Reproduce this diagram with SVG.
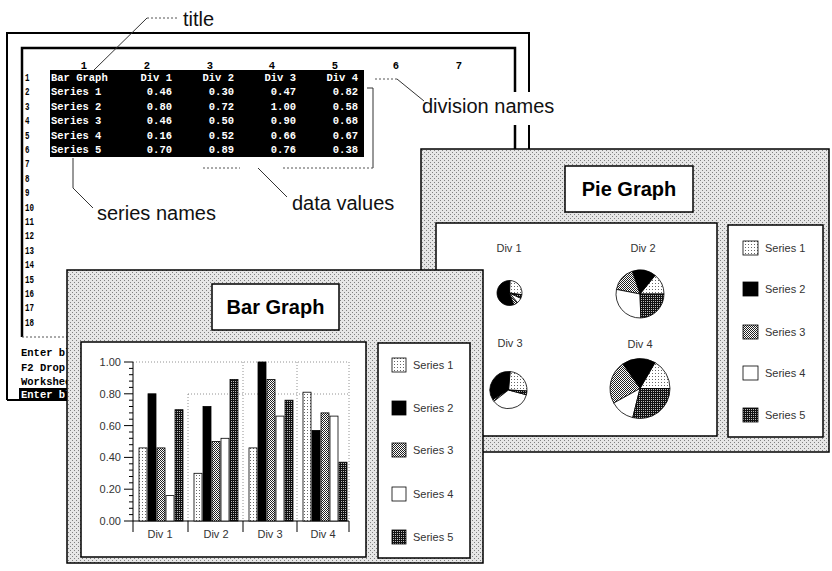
<svg xmlns="http://www.w3.org/2000/svg" width="832" height="571" viewBox="0 0 832 571">
<style>
.mono{font-family:"Liberation Mono","DejaVu Sans Mono",monospace;font-weight:bold;font-size:10.5px}
.lbl{font-family:"Liberation Sans",Arial,sans-serif;font-size:20px;fill:#111}
.sm{font-family:"Liberation Sans",Arial,sans-serif;font-size:11px;fill:#333}
.ttl{font-family:"Liberation Sans",Arial,sans-serif;font-size:20px;font-weight:bold;fill:#000}
.frame{fill:none;stroke:#000}
.panel{fill:url(#halftone);stroke:#000;stroke-width:1.5}
.box{fill:#fff;stroke:#000;stroke-width:1.5}
.lead{fill:none;stroke:#333;stroke-width:1}
.dot{fill:none;stroke:#555;stroke-width:1;stroke-dasharray:2 2}
.grid{fill:none;stroke:#777;stroke-width:0.8;stroke-dasharray:1 2}
.s1{fill:url(#p1);stroke:#000;stroke-width:0.8}
.s2{fill:#000;stroke:#000;stroke-width:0.8}
.s3{fill:url(#p3);stroke:#000;stroke-width:0.8}
.s4{fill:#fff;stroke:#000;stroke-width:0.8}
.s5{fill:url(#p5);stroke:#000;stroke-width:0.8}
</style>
<defs>
<pattern id="halftone" patternUnits="userSpaceOnUse" width="4" height="4">
<rect width="4" height="4" fill="#e6e6e6"/><rect x="0" y="0" width="1" height="1" fill="#808080"/><rect x="2" y="2" width="1" height="1" fill="#808080"/>
</pattern>
<pattern id="p1" patternUnits="userSpaceOnUse" width="3" height="3">
<rect width="3" height="3" fill="#fff"/><rect x="1" y="1" width="1" height="1" fill="#666"/>
</pattern>
<pattern id="p3" patternUnits="userSpaceOnUse" width="2" height="2">
<rect width="2" height="2" fill="#fff"/><rect x="0" y="0" width="1" height="1" fill="#222"/><rect x="1" y="1" width="1" height="1" fill="#222"/>
</pattern>
<pattern id="p5" patternUnits="userSpaceOnUse" width="2" height="2">
<rect width="2" height="2" fill="#111"/><rect x="1" y="1" width="1" height="1" fill="#bbb"/>
</pattern>
</defs>
<rect width="832" height="571" fill="#fff"/>

<g id="spreadsheet">
<path class="frame" stroke-width="2" d="M7,400 V33 H529 V92 M529,125 V149"/>
<path class="frame" stroke-width="2.5" d="M22,337 V48 H515 V92 M515,125 V149"/>
<path class="frame" stroke-width="2" d="M7,400 H70"/>
<path class="dot" d="M22,337 H70"/>
<g class="mono" text-anchor="middle" fill="#000">
<text x="84" y="69">1</text><text x="147" y="69">2</text><text x="210" y="69">3</text><text x="272" y="69">4</text><text x="335" y="69">5</text><text x="396" y="69">6</text><text x="459" y="69">7</text>
</g>
<g class="mono" fill="#000" font-size="11">
<text x="25" y="81" textLength="4.5" lengthAdjust="spacingAndGlyphs">1</text>
<text x="25" y="95.4" textLength="4.5" lengthAdjust="spacingAndGlyphs">2</text>
<text x="25" y="109.8" textLength="4.5" lengthAdjust="spacingAndGlyphs">3</text>
<text x="25" y="124.2" textLength="4.5" lengthAdjust="spacingAndGlyphs">4</text>
<text x="25" y="138.6" textLength="4.5" lengthAdjust="spacingAndGlyphs">5</text>
<text x="25" y="153" textLength="4.5" lengthAdjust="spacingAndGlyphs">6</text>
<text x="25" y="167.4" textLength="4.5" lengthAdjust="spacingAndGlyphs">7</text>
<text x="25" y="181.8" textLength="4.5" lengthAdjust="spacingAndGlyphs">8</text>
<text x="25" y="196.2" textLength="4.5" lengthAdjust="spacingAndGlyphs">9</text>
<text x="25" y="210.6" textLength="9" lengthAdjust="spacingAndGlyphs">10</text>
<text x="25" y="225" textLength="9" lengthAdjust="spacingAndGlyphs">11</text>
<text x="25" y="239.4" textLength="9" lengthAdjust="spacingAndGlyphs">12</text>
<text x="25" y="253.8" textLength="9" lengthAdjust="spacingAndGlyphs">13</text>
<text x="25" y="268.2" textLength="9" lengthAdjust="spacingAndGlyphs">14</text>
<text x="25" y="282.6" textLength="9" lengthAdjust="spacingAndGlyphs">15</text>
<text x="25" y="297" textLength="9" lengthAdjust="spacingAndGlyphs">16</text>
<text x="25" y="311.4" textLength="9" lengthAdjust="spacingAndGlyphs">17</text>
<text x="25" y="325.8" textLength="9" lengthAdjust="spacingAndGlyphs">18</text>
</g>
<rect x="50" y="70" width="314" height="87" fill="#000"/>
<g class="mono" fill="#fff" font-size="11">
<text x="51" y="81">Bar Graph</text>
<text x="51" y="95.4">Series 1</text>
<text x="51" y="109.8">Series 2</text>
<text x="51" y="124.2">Series 3</text>
<text x="51" y="138.6">Series 4</text>
<text x="51" y="153">Series 5</text>
</g>
<g class="mono" fill="#fff" text-anchor="end" font-size="11">
<text x="172" y="81">Div 1</text><text x="234" y="81">Div 2</text><text x="296" y="81">Div 3</text><text x="358" y="81">Div 4</text>
<text x="172" y="95.4">0.46</text><text x="234" y="95.4">0.30</text><text x="296" y="95.4">0.47</text><text x="358" y="95.4">0.82</text>
<text x="172" y="109.8">0.80</text><text x="234" y="109.8">0.72</text><text x="296" y="109.8">1.00</text><text x="358" y="109.8">0.58</text>
<text x="172" y="124.2">0.46</text><text x="234" y="124.2">0.50</text><text x="296" y="124.2">0.90</text><text x="358" y="124.2">0.68</text>
<text x="172" y="138.6">0.16</text><text x="234" y="138.6">0.52</text><text x="296" y="138.6">0.66</text><text x="358" y="138.6">0.67</text>
<text x="172" y="153">0.70</text><text x="234" y="153">0.89</text><text x="296" y="153">0.76</text><text x="358" y="153">0.38</text>
</g>
<g class="mono" fill="#000">
<text x="21" y="356">Enter bl</text>
<text x="21" y="371">F2 Drop</text>
<text x="21" y="385">Workshee</text>
</g>
<rect x="19" y="388" width="52" height="12" fill="#000"/>
<text class="mono" x="21" y="398" fill="#fff">Enter bl</text>
</g>

<g id="connectors">
<path class="lead" d="M94,70 L147,18"/>
<path class="dot" d="M147,18 H178"/>
<path class="dot" d="M375,79 H397"/>
<path class="lead" d="M397,79 L424,101"/>
<path class="lead" d="M367,88 H373 V168"/>
<path class="dot" d="M203,168 H240 M283,168 H373"/>
<path class="lead" d="M258,168 L287,197"/>
<path class="lead" d="M73,158 V188 L93,208"/>
</g>

<g id="label-title"><text class="lbl" x="183" y="25.5" font-size="19">title</text></g>
<g id="label-division-names"><text class="lbl" x="422" y="113" font-size="21">division names</text></g>
<g id="label-data-values"><text class="lbl" x="292" y="209.5">data values</text></g>
<g id="label-series-names"><text class="lbl" x="97" y="220" font-size="19">series names</text></g>

<g id="pie-graph">
<rect class="panel" x="421" y="149" width="408" height="303"/>
<rect class="box" x="565" y="166" width="128" height="46"/>
<text class="ttl" x="629" y="196" text-anchor="middle">Pie Graph</text>
<rect class="box" x="436" y="223" width="281" height="213"/>
<g class="sm" text-anchor="middle">
<text x="509" y="252">Div 1</text><text x="643" y="252">Div 2</text><text x="510" y="347">Div 3</text><text x="640" y="348">Div 4</text>
</g>
<g id="pie-div1">
<path class="s1" d="M509.5,293 L521.88,294.74 A12.5,12.5 0 0 0 509.94,280.51 Z"/>
<path class="s2" d="M509.5,293 L509.94,280.51 A12.5,12.5 0 1 0 513.78,304.75 Z"/>
<path class="s3" d="M509.5,293 L513.78,304.75 A12.5,12.5 0 0 0 517.53,302.58 Z"/>
<path class="s4" d="M509.5,293 L517.53,302.58 A12.5,12.5 0 0 0 520.83,298.28 Z"/>
<path class="s5" d="M509.5,293 L520.83,298.28 A12.5,12.5 0 0 0 521.88,294.74 Z"/>
</g>
<g id="pie-div2">
<path class="s1" d="M640,294 L664,294 A24,24 0 0 0 655.10,275.35 Z"/>
<path class="s2" d="M640,294 L655.10,275.35 A24,24 0 0 0 632.19,271.31 Z"/>
<path class="s3" d="M640,294 L632.19,271.31 A24,24 0 0 0 616.44,289.42 Z"/>
<path class="s4" d="M640,294 L616.44,289.42 A24,24 0 0 0 640.84,317.99 Z"/>
<path class="s5" d="M640,294 L640.84,317.99 A24,24 0 0 0 664,294 Z"/>
</g>
<g id="pie-div3">
<path class="s1" d="M508.5,390 L526.97,390.97 A18.5,18.5 0 0 0 510.11,371.57 Z"/>
<path class="s2" d="M508.5,390 L510.11,371.57 A18.5,18.5 0 0 0 492.81,399.80 Z"/>
<path class="s3" d="M508.5,390 L492.81,399.80 A18.5,18.5 0 0 0 493.92,401.39 Z"/>
<path class="s4" d="M508.5,390 L493.92,401.39 A18.5,18.5 0 0 0 526.37,394.79 Z"/>
<path class="s5" d="M508.5,390 L526.37,394.79 A18.5,18.5 0 0 0 526.97,390.97 Z"/>
</g>
<g id="pie-div4">
<path class="s1" d="M640,388.5 L670,388.5 A30,30 0 0 0 655,362.52 Z"/>
<path class="s2" d="M640,388.5 L655,362.52 A30,30 0 0 0 622.79,363.92 Z"/>
<path class="s3" d="M640,388.5 L622.79,363.92 A30,30 0 0 0 613.76,403.04 Z"/>
<path class="s4" d="M640,388.5 L613.76,403.04 A30,30 0 0 0 632.74,417.61 Z"/>
<path class="s5" d="M640,388.5 L632.74,417.61 A30,30 0 0 0 670,388.5 Z"/>
</g>
<g id="pie-legend">
<rect class="box" x="728" y="225" width="95" height="212"/>
<rect class="s1" x="743" y="241" width="15" height="14"/><text class="sm" x="765" y="252">Series 1</text>
<rect class="s2" x="743" y="282" width="15" height="14"/><text class="sm" x="765" y="293">Series 2</text>
<rect class="s3" x="743" y="325" width="15" height="14"/><text class="sm" x="765" y="336">Series 3</text>
<rect class="s4" x="743" y="366" width="15" height="14"/><text class="sm" x="765" y="377">Series 4</text>
<rect class="s5" x="743" y="408" width="15" height="14"/><text class="sm" x="765" y="419">Series 5</text>
</g>
</g>

<g id="bar-graph">
<rect class="panel" x="67" y="270" width="416" height="293"/>
<rect class="box" x="212" y="284" width="127" height="46"/>
<text class="ttl" x="275.5" y="314" text-anchor="middle">Bar Graph</text>
<rect class="box" x="81" y="342" width="285" height="215"/>
<g id="bar-grid">
<path class="grid" d="M133,362 H349 M188,394 H349 M188,394 V521 M243,362 V521 M297,362 V521 M349,362 V521"/>
</g>
<g id="bar-axes" stroke="#000" stroke-width="1" fill="none">
<path d="M133,362 V521 H349"/>
<path d="M124,362 H133 M124,393.8 H133 M124,425.6 H133 M124,457.4 H133 M124,489.2 H133 M124,521 H133"/>
<path d="M129,368.4 H133 M129,374.7 H133 M129,381.1 H133 M129,387.4 H133 M129,400.2 H133 M129,406.5 H133 M129,412.9 H133 M129,419.2 H133 M129,432 H133 M129,438.3 H133 M129,444.7 H133 M129,451 H133 M129,463.8 H133 M129,470.1 H133 M129,476.5 H133 M129,482.8 H133 M129,495.6 H133 M129,501.9 H133 M129,508.3 H133 M129,514.6 H133"/>
<path d="M133,521 V532 M188,521 V532 M243,521 V532 M297,521 V532 M349,521 V532"/>
</g>
<g class="sm" text-anchor="end">
<text x="121" y="366">1.00</text><text x="121" y="397.8">0.80</text><text x="121" y="429.6">0.60</text><text x="121" y="461.4">0.40</text><text x="121" y="493.2">0.20</text><text x="121" y="525">0.00</text>
</g>
<g class="sm" text-anchor="middle">
<text x="160" y="538">Div 1</text><text x="216" y="538">Div 2</text><text x="270" y="538">Div 3</text><text x="323" y="538">Div 4</text>
</g>
<g id="bars">
<rect class="s1" x="139" y="447.9" width="8" height="73.1"/>
<rect class="s2" x="148" y="393.8" width="8" height="127.2"/>
<rect class="s3" x="157" y="447.9" width="8" height="73.1"/>
<rect class="s4" x="166" y="495.6" width="8" height="25.4"/>
<rect class="s5" x="175" y="409.7" width="8" height="111.3"/>
<rect class="s1" x="194" y="473.3" width="8" height="47.7"/>
<rect class="s2" x="203" y="406.5" width="8" height="114.5"/>
<rect class="s3" x="212" y="441.5" width="8" height="79.5"/>
<rect class="s4" x="221" y="438.3" width="8" height="82.7"/>
<rect class="s5" x="230" y="379.5" width="8" height="141.5"/>
<rect class="s1" x="249" y="447.9" width="8" height="73.1"/>
<rect class="s2" x="258" y="362" width="8" height="159"/>
<rect class="s3" x="267" y="379.5" width="8" height="141.5"/>
<rect class="s4" x="276" y="416.1" width="8" height="104.9"/>
<rect class="s5" x="285" y="400.2" width="8" height="120.8"/>
<rect class="s1" x="303" y="392.2" width="8" height="128.8"/>
<rect class="s2" x="312" y="430.4" width="8" height="90.6"/>
<rect class="s3" x="321" y="412.9" width="8" height="108.1"/>
<rect class="s4" x="330" y="416.1" width="8" height="104.9"/>
<rect class="s5" x="339" y="462.2" width="8" height="58.8"/>
</g>
<g id="bar-legend">
<rect class="box" x="378" y="343" width="92" height="215"/>
<rect class="s1" x="392" y="358" width="14" height="14"/><text class="sm" x="413" y="369">Series 1</text>
<rect class="s2" x="392" y="401" width="14" height="14"/><text class="sm" x="413" y="412">Series 2</text>
<rect class="s3" x="392" y="443" width="14" height="14"/><text class="sm" x="413" y="454">Series 3</text>
<rect class="s4" x="392" y="487" width="14" height="14"/><text class="sm" x="413" y="498">Series 4</text>
<rect class="s5" x="392" y="530" width="14" height="14"/><text class="sm" x="413" y="541">Series 5</text>
</g>
</g>
</svg>
